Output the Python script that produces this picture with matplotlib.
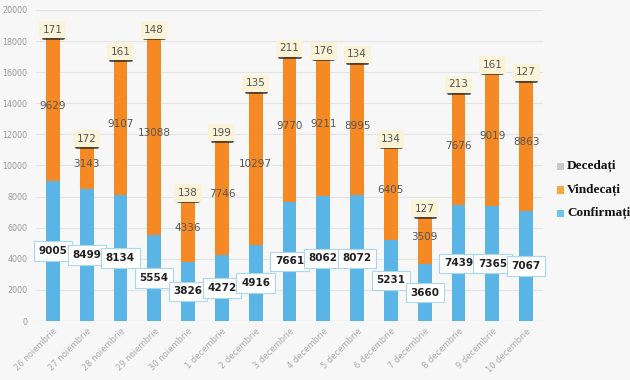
import numpy as np
import matplotlib.pyplot as plt
from matplotlib.patches import Rectangle

# data
zile = ["26 noiembrie", "27 noiembrie", "28 noiembrie", "29 noiembrie", "30 noiembrie",
        "1 decembrie", "2 decembrie", "3 decembrie", "4 decembrie", "5 decembrie",
        "6 decembrie", "7 decembrie", "8 decembrie", "9 decembrie", "10 decembrie"]
confirmati = [9005, 8499, 8134, 5554, 3826, 4272, 4916, 7661, 8062, 8072, 5231, 3660, 7439, 7365, 7067]
vindecati = [9629, 3143, 9107, 13088, 4336, 7746, 10297, 9770, 9211, 8995, 6405, 3509, 7676, 9019, 8863]
decedati = [171, 172, 161, 148, 138, 199, 135, 211, 176, 134, 134, 127, 213, 161, 127]

bg = "#f7f7f7"
c_blue = "#5ab4e6"
c_orange = "#f58a24"
c_gray = "#c9c9c9"

fig = plt.figure(figsize=(6.3, 3.8), dpi=100, facecolor=bg)
ax = fig.add_axes([0.057, 0.155, 0.805, 0.819], facecolor=bg)

x = np.arange(len(zile))
conf = np.array(confirmati)
vind = np.array(vindecati)
dec = np.array(decedati)
w = 0.41

ax.bar(x, conf, w, color=c_blue, zorder=2)
ax.bar(x, vind, w, bottom=conf, color=c_orange, zorder=2)
ax.bar(x, dec, w, bottom=conf + vind, color=c_gray, zorder=2)

for i in x:
    ax.text(i, conf[i] / 2, str(conf[i]), ha="center", va="center", fontsize=7.5,
            fontweight="bold", color="#222222", zorder=4,
            bbox=dict(boxstyle="square,pad=0.45", fc="white", ec="#a8d8f0", lw=0.8))
    ax.text(i, conf[i] + vind[i] / 2, str(vind[i]), ha="center", va="center", fontsize=7.5,
            color="#555555", zorder=4)
    top = conf[i] + vind[i] + dec[i] / 2
    ax.text(i, top, str(dec[i]), ha="center", va="center",
            fontsize=7.5, color="#555555", zorder=5,
            bbox=dict(boxstyle="square,pad=0.35", fc="#fbf3d8", ec="none"))
    # dark shadow under the box
    ax.plot([i - 0.3, i + 0.3], [top - 540] * 2,
            color="#2a2a2a", lw=2, alpha=0.8, zorder=4, solid_capstyle="round")

ax.set_xlim(-0.5, len(zile) - 0.5)
ax.set_ylim(0, 20000)
ax.set_yticks(np.arange(0, 20001, 2000))
ax.set_xticks(x)
ax.set_xticklabels(zile, rotation=45, ha="right", rotation_mode="anchor",
                   fontsize=6, color="#aaaaaa")
ax.tick_params(axis="y", labelsize=5.8, labelcolor="#999999", length=0, pad=6)
ax.tick_params(axis="x", length=0, pad=4)
ax.grid(axis="y", color="#e4e4e4", lw=0.8, zorder=0)
for s in ax.spines.values():
    s.set_visible(False)
ax.axhline(0, color="#e0e0e0", lw=0.8, zorder=1)

# legend
legend = [("Decedați", c_gray), ("Vindecați", "#f5a83a"), ("Confirmați", "#6cc4e8")]
for k, (nume, col) in enumerate(legend):
    yy = 1 - (166 + k * 23.5) / 380
    fig.patches.append(Rectangle((0.884, yy - 0.011), 0.0115, 0.019, transform=fig.transFigure,
                                 fc=col, ec="none"))
    fig.text(0.9, yy, nume, fontsize=9.5, fontweight="bold", family="Liberation Serif",
             color="#111111", va="center", ha="left")

fig.savefig("out.png", dpi=100, facecolor=bg)
